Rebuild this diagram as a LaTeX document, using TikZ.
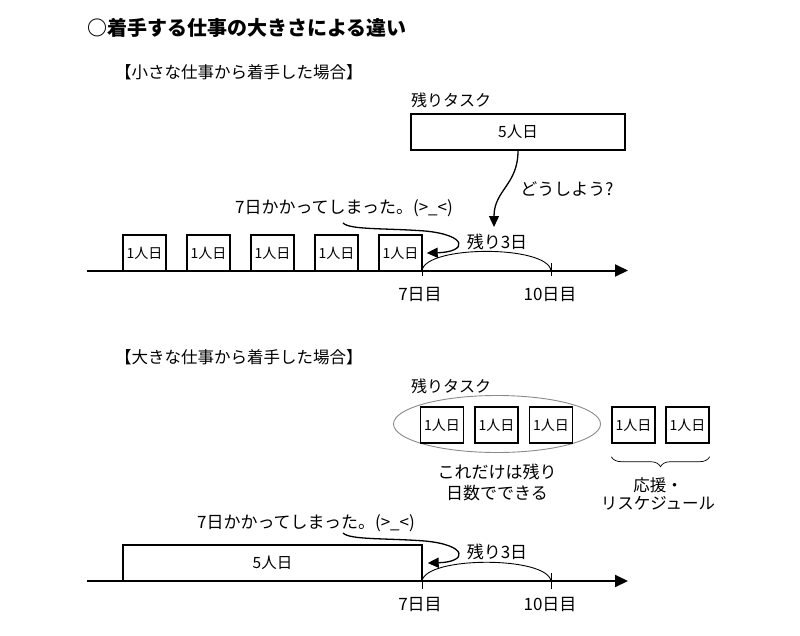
\documentclass[tikz,border=0pt]{standalone}
\usepackage{fontspec}
\setmainfont{Noto Sans CJK JP}
\usetikzlibrary{arrows.meta,positioning,shapes.geometric,decorations.pathreplacing}
\definecolor{thin}{HTML}{8A8A8A}

\begin{document}
\begin{tikzpicture}[x=1pt, y=-1pt,
  day/.style={draw, line width=1.4pt, minimum width=43pt, minimum height=36pt, inner sep=0pt, font=\fontsize{14}{14}\selectfont},
  task/.style={draw, line width=1.4pt, minimum height=36pt, inner sep=0pt, font=\fontsize{15.5}{16}\selectfont},
  lbl/.style={inner sep=0pt, font=\fontsize{17}{21}\selectfont},
  arrow/.style={-{Triangle[length=11pt,width=10pt]}, line width=1.3pt},
  axis/.style={-{Triangle[length=13pt,width=12pt]}, line width=2pt},
  span/.style={thin, line width=0.9pt},
]
\useasboundingbox (0,0) rectangle (800,635);

% Heading
\node[inner sep=0pt, anchor=west, font=\fontsize{20}{20}\selectfont\bfseries] (title) at (87,28) {○着手する仕事の大きさによる違い};
\node[inner sep=0pt, anchor=west, font=\fontsize{16.5}{16.5}\selectfont] (case1) at (115,72) {【小さな仕事から着手した場合】};

% Small tasks first
\node[lbl, anchor=west, font=\fontsize{16}{16}\selectfont] (rest1) at (411,100) {残りタスク};
\node[task, minimum width=214pt] (big1) at (518,132) {5人日};
\node[day] (s1) at (144.5,253) {1人日};
\node[day] (s2) at (208.5,253) {1人日};
\node[day] (s3) at (272.5,253) {1人日};
\node[day] (s4) at (336.5,253) {1人日};
\node[day] (s5) at (400.5,253) {1人日};
\node[lbl] (what) at (567,189) {どうしよう?};
\node[lbl] (msg1) at (344,208) {7日かかってしまった。(>\_<)};
\node[lbl] (left1) at (497,242) {残り3日};
\coordinate (start1) at (87,270.5);
\coordinate (end1) at (628,270.5);
\coordinate (d7a) at (422,270.5);
\coordinate (d10a) at (551,270.5);
\coordinate (drop1) at (494,227);
\coordinate (c1) at (343,223);
\node[lbl] (l7a) at (420,295) {7日目};
\node[lbl] (l10a) at (550,295) {10日目};

\draw[axis] (start1) -- (end1);
\draw[span] ([yshift=6pt]d7a) -- ([yshift=-5pt]d7a);
\draw[span] ([yshift=8pt]d10a) -- ([yshift=-5pt]d10a);
\draw[span] (d7a) .. controls (426,245) and (547,245) .. (d10a);
\draw[arrow] (big1.south) .. controls (518,185) and (494,190) .. (drop1);
\draw[arrow] (c1) .. controls (350,230) and (385,228) .. (425,231)
  .. controls (468,235) and (468,252) .. ([xshift=4pt]s5.east);

% Large task first
\node[inner sep=0pt, anchor=west, font=\fontsize{16.5}{16.5}\selectfont] (case2) at (115,357) {【大きな仕事から着手した場合】};
\node[lbl, anchor=west, font=\fontsize{16}{16}\selectfont] (rest2) at (411,386) {残りタスク};
\node[draw=thin, line width=0.9pt, ellipse, minimum width=207pt, minimum height=57pt] (grp) at (497,424) {};
\node[day] (t1) at (442,425) {1人日};
\node[day] (t2) at (496.5,425) {1人日};
\node[day] (t3) at (551,425) {1人日};
\node[day] (t4) at (633.5,425) {1人日};
\node[day] (t5) at (687.5,425) {1人日};
\node[lbl, align=center] (can) at (497,482) {これだけは残り\\日数でできる};
\node[lbl, font=\fontsize{16.5}{18}\selectfont, align=center] (help) at (658,494) {応援・\\リスケジュール};
\draw[span, line width=0.7pt, decorate, decoration={brace, mirror, amplitude=10pt}]
  ([yshift=-13pt]t4.south west) -- ([yshift=-13pt]t5.south east);

\node[task, minimum width=299pt] (big2) at (272.5,563) {5人日};
\node[lbl] (msg2) at (306,523) {7日かかってしまった。(>\_<)};
\node[lbl] (left2) at (497,552) {残り3日};
\coordinate (start2) at (87,581);
\coordinate (end2) at (628,581);
\coordinate (d7b) at (422,581);
\coordinate (d10b) at (551,581);
\coordinate (c2) at (343,533);
\node[lbl] (l7b) at (420,605) {7日目};
\node[lbl] (l10b) at (550,605) {10日目};

\draw[axis] (start2) -- (end2);
\draw[span] (d7b) -- ([yshift=-8pt]d7b);
\draw[span] ([yshift=8pt]d10b) -- ([yshift=-8pt]d10b);
\draw[span] (d7b) .. controls (426,556) and (547,556) .. (d10b);
\draw[arrow] (c2) .. controls (350,540) and (385,538) .. (425,541)
  .. controls (468,545) and (468,562) .. ([xshift=5pt]big2.east);

\end{tikzpicture}
\end{document}
